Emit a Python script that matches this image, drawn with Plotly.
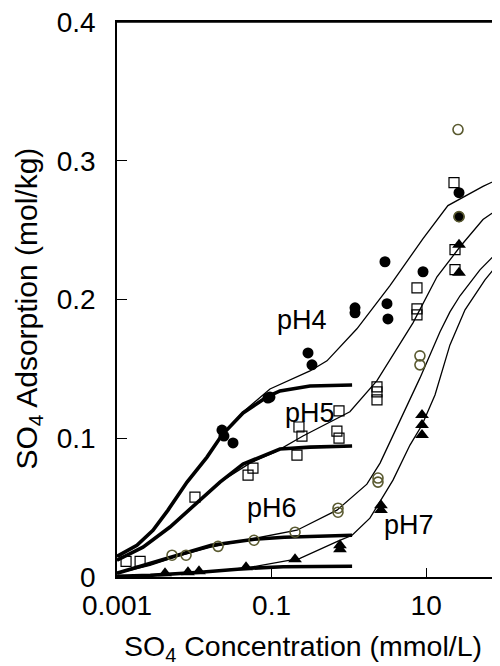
import math
import plotly.graph_objects as go

# ---- observed data (SO4 concentration mmol/L, adsorption mol/kg) ----
ph4_x = [0.0228, 0.0242, 0.0317, 0.0897, 0.0953, 0.296, 0.333, 1.2, 1.2, 3.11, 3.2, 2.93, 9.1, 26.6, 26.6]
ph4_y = [0.1059, 0.1016, 0.0966, 0.129, 0.1297, 0.1615, 0.1529, 0.194, 0.1904, 0.197, 0.186, 0.2272, 0.22, 0.277, 0.2597]

ph5_x = [0.00131, 0.00199, 0.0102, 0.0496, 0.0574, 0.226, 0.247, 0.213, 0.745, 0.70, 0.745, 2.31, 2.31, 2.31, 7.6, 7.6, 7.6, 22.9, 23.6, 23.6]
ph5_y = [0.0113, 0.0113, 0.0575, 0.0734, 0.0785, 0.1081, 0.1016, 0.0879, 0.1197, 0.1052, 0.1001, 0.137, 0.1334, 0.1276, 0.2084, 0.1933, 0.1889, 0.2843, 0.236, 0.2215]

ph6_x = [0.00515, 0.00782, 0.0203, 0.0592, 0.201, 0.723, 0.723, 2.38, 2.38, 8.3, 8.3, 25.8, 26.6]
ph6_y = [0.0157, 0.0157, 0.0221, 0.0265, 0.0323, 0.0496, 0.0467, 0.0713, 0.0684, 0.1594, 0.1529, 0.3225, 0.2597]

ph7_x = [0.00418, 0.00828, 0.0115, 0.0467, 0.201, 0.767, 0.767, 2.6, 2.6, 8.83, 8.83, 8.83, 26.6, 26.6]
ph7_y = [0.0027, 0.0034, 0.0041, 0.007, 0.0128, 0.0229, 0.02, 0.0518, 0.0482, 0.1167, 0.1095, 0.1023, 0.2395, 0.2193]

# ---- model curves, low-concentration fit (thick) ----
fit1_ph4_x = [0.001, 0.00181, 0.00292, 0.00457, 0.00806, 0.0146, 0.0228, 0.0427, 0.0871, 0.1285, 0.314, 1.1]
fit1_ph4_y = [0.0149, 0.0229, 0.0337, 0.0482, 0.0684, 0.0864, 0.1023, 0.1182, 0.1298, 0.1341, 0.1377, 0.1384]
fit1_ph5_x = [0.001, 0.00217, 0.00485, 0.01084, 0.0215, 0.0427, 0.0647, 0.1285, 0.314, 1.1]
fit1_ph5_y = [0.0121, 0.0215, 0.036, 0.0532, 0.0684, 0.0814, 0.0857, 0.0922, 0.0936, 0.0944]
fit1_ph6_x = [0.001, 0.00217, 0.0062, 0.0166, 0.0596, 0.146, 1.1]
fit1_ph6_y = [0.0027, 0.0084, 0.0157, 0.0229, 0.0272, 0.0287, 0.0301]
fit1_ph7_x = [0.001, 0.0027, 0.0119, 0.0526, 0.141, 1.1]
fit1_ph7_y = [0.0005, 0.0012, 0.0034, 0.0063, 0.0074, 0.0077]

# ---- model curves, full-range fit (thin) ----
fit2_ph4_x = [0.001, 0.00181, 0.00292, 0.00457, 0.00806, 0.0146, 0.0228, 0.0427, 0.0953, 0.314, 0.521, 1.27, 3.4, 9.1, 19.1, 54.3, 90]
fit2_ph4_y = [0.0149, 0.0229, 0.0337, 0.0482, 0.0684, 0.0864, 0.1023, 0.119, 0.1355, 0.1485, 0.1558, 0.1789, 0.21, 0.2439, 0.2677, 0.2815, 0.2873]
fit2_ph5_x = [0.001, 0.00217, 0.00485, 0.01084, 0.0215, 0.0526, 0.1107, 0.2547, 1.03, 2.31, 6.75, 13.8, 27.4, 54.3, 90]
fit2_ph5_y = [0.0121, 0.0215, 0.036, 0.0532, 0.0684, 0.0821, 0.09, 0.1016, 0.1191, 0.1415, 0.1832, 0.2164, 0.238, 0.2576, 0.2662]
fit2_ph6_x = [0.001, 0.00267, 0.00597, 0.01595, 0.0526, 0.213, 0.701, 1.71, 2.53, 4.58, 8.32, 15.1, 20.3, 27.4, 49.6, 90]
fit2_ph6_y = [0.0027, 0.0084, 0.0149, 0.0214, 0.0272, 0.0337, 0.0482, 0.0669, 0.0821, 0.1131, 0.1435, 0.1767, 0.1911, 0.2027, 0.2214, 0.2359]
fit2_ph7_x = [0.001, 0.01186, 0.0526, 0.233, 0.723, 1.1, 1.87, 3.72, 6.17, 8.83, 13.0, 20.3, 31.8, 39.1, 57.6, 90]
fit2_ph7_y = [0.0005, 0.0034, 0.007, 0.0135, 0.0258, 0.0301, 0.0424, 0.0698, 0.0951, 0.1095, 0.1312, 0.1673, 0.1926, 0.1998, 0.2142, 0.2272]

labels = ["pH4", "pH5", "pH6", "pH7"]
label_x = [0.247, 0.314, 0.101, 5.99]
label_y = [0.185, 0.118, 0.0496, 0.0373]

x_tickvals = [0.001, 0.1, 10]
x_ticktext = ["0.001", "0.1", "10"]
y_tickvals = [0, 0.1, 0.2, 0.3, 0.4]
y_ticktext = ["0", "0.1", "0.2", "0.3", "0.4"]

FONT = "Liberation Sans, Arial, sans-serif"

fig = go.Figure()

for xs, ys in [(fit2_ph4_x, fit2_ph4_y), (fit2_ph5_x, fit2_ph5_y), (fit2_ph6_x, fit2_ph6_y), (fit2_ph7_x, fit2_ph7_y)]:
    fig.add_trace(go.Scatter(x=xs, y=ys, mode="lines", line=dict(color="black", width=1.3), showlegend=False, hoverinfo="skip"))
for xs, ys in [(fit1_ph4_x, fit1_ph4_y), (fit1_ph5_x, fit1_ph5_y), (fit1_ph6_x, fit1_ph6_y), (fit1_ph7_x, fit1_ph7_y)]:
    fig.add_trace(go.Scatter(x=xs, y=ys, mode="lines", line=dict(color="black", width=3.6), showlegend=False, hoverinfo="skip"))

fig.add_trace(go.Scatter(x=ph5_x, y=ph5_y, mode="markers", name="pH5",
                         marker=dict(symbol="square-open", size=10, color="black", line=dict(width=1.2))))
fig.add_trace(go.Scatter(x=ph4_x, y=ph4_y, mode="markers", name="pH4",
                         marker=dict(symbol="circle", size=11, color="black")))
fig.add_trace(go.Scatter(x=ph6_x, y=ph6_y, mode="markers", name="pH6",
                         marker=dict(symbol="circle-open", size=10, color="#5a5a30", line=dict(width=1.6))))
fig.add_trace(go.Scatter(x=ph7_x, y=ph7_y, mode="markers", name="pH7",
                         marker=dict(symbol="triangle-up", size=12, color="black")))

for t, lx, ly in zip(labels, label_x, label_y):
    fig.add_annotation(x=math.log10(lx), y=ly, xref="x", yref="y", text=t, showarrow=False,
                       font=dict(family=FONT, size=27, color="black"), xanchor="center", yanchor="middle")

fig.add_annotation(x=0.486, y=-0.128, xref="paper", yref="paper", text="SO<sub>4</sub> Concentration (mmol/L)",
                   showarrow=False, font=dict(family=FONT, size=28.5, color="black"), xanchor="center", yanchor="middle")
fig.add_annotation(x=-0.232, y=0.484, xref="paper", yref="paper", text="SO<sub>4</sub> Adsorption (mol/kg)",
                   showarrow=False, textangle=-90, font=dict(family=FONT, size=30, color="black"),
                   xanchor="center", yanchor="middle")

# top frame line of the plot area
fig.add_shape(type="line", xref="paper", yref="paper", x0=0, x1=1, y0=1, y1=1,
              line=dict(color="black", width=1.6), layer="above")

# the page body adds an 8 px offset; the figure is sized to fill the rest of the window
fig.update_layout(
    width=492, height=658,
    margin=dict(l=109, r=0, t=14, b=89, autoexpand=False),
    paper_bgcolor="white", plot_bgcolor="white",
    showlegend=False,
    font=dict(family=FONT, size=28, color="black"),
)
fig.update_xaxes(type="log", range=[-3, 1.955], tickvals=x_tickvals, ticktext=x_ticktext,
                 ticks="inside", ticklen=9, tickwidth=1.3, tickcolor="black",
                 showline=True, linecolor="black", linewidth=1.6, mirror=True,
                 showgrid=False, zeroline=False, ticklabelstandoff=3, automargin=False,
                 ticklabeloverflow="allow",
                 tickfont=dict(family=FONT, size=28, color="black"))
fig.update_yaxes(range=[0, 0.4], tickvals=y_tickvals, ticktext=y_ticktext,
                 ticks="inside", ticklen=10, tickwidth=1.3, tickcolor="black",
                 showline=True, linecolor="black", linewidth=1.6, mirror=False,
                 showgrid=False, zeroline=False, ticklabelstandoff=14, automargin=False,
                 ticklabeloverflow="allow",
                 tickfont=dict(family=FONT, size=28, color="black"))

fig.write_html("out.html")
